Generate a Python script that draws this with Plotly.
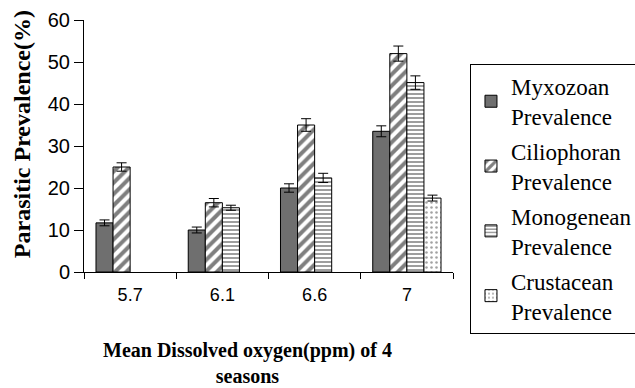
import plotly.graph_objects as go

categories = ["5.7", "6.1", "6.6", "7"]
myxozoan = [11.7, 10.0, 20.0, 33.5]
myxozoan_err = [0.7, 0.7, 1.0, 1.3]
ciliophoran = [25.0, 16.5, 35.0, 52.0]
ciliophoran_err = [1.0, 1.0, 1.5, 1.8]
monogenean = [None, 15.3, 22.4, 45.1]
monogenean_err = [None, 0.6, 1.1, 1.6]
crustacean = [None, None, None, 17.6]
crustacean_err = [None, None, None, 0.7]
y_ticks = [0, 10, 20, 30, 40, 50, 60]

SERIF = "Liberation Serif"
SANS = "Liberation Sans"

series = [
    ("Myxozoan<br>Prevalence", myxozoan, myxozoan_err, dict(color="#6f6f6f")),
    ("Ciliophoran<br>Prevalence", ciliophoran, ciliophoran_err,
     dict(color="white", pattern=dict(shape="/", fgcolor="black", bgcolor="white", size=8, solidity=0.5))),
    ("Monogenean<br>Prevalence", monogenean, monogenean_err,
     dict(color="white", pattern=dict(shape="-", fgcolor="black", bgcolor="white", size=4, solidity=0.38))),
    ("Crustacean<br>Prevalence", crustacean, crustacean_err,
     dict(color="white", pattern=dict(shape=".", fgcolor="#444", bgcolor="white", size=5, solidity=0.2))),
]

fig = go.Figure()
for i, (name, vals, errs, mk) in enumerate(series):
    mk = dict(mk)
    mk["line"] = dict(color="black", width=1)
    fig.add_trace(go.Bar(
        x=categories, y=vals, name=name, marker=mk, legendgroup=f"g{i}",
        error_y=dict(type="data", array=errs, visible=True, color="black", thickness=1, width=5),
    ))

fig.update_layout(
    width=635, height=388,
    margin=dict(l=84, r=182, t=20, b=116, autoexpand=False),
    paper_bgcolor="white", plot_bgcolor="white",
    font=dict(family=SERIF, color="black"),
    barmode="group", bargap=0.26, bargroupgap=0,
    showlegend=True,
    legend=dict(
        x=1.046, y=0.826, xanchor="left", yanchor="top",
        bordercolor="black", borderwidth=1, bgcolor="white",
        font=dict(family=SERIF, size=23, color="black"),
        itemwidth=30, tracegroupgap=2, maxheight=380,
    ),
    xaxis=dict(
        type="category", showline=True, linecolor="black", linewidth=1,
        ticks="outside", tickson="boundaries", ticklen=6, tickcolor="black",
        tickfont=dict(family=SANS, size=18, color="black"), ticklabelstandoff=6,
        showgrid=False, automargin=False,
    ),
    yaxis=dict(
        range=[0, 60], tickvals=y_ticks, showline=True, linecolor="black", linewidth=1,
        ticks="outside", ticklen=9, tickcolor="black",
        tickfont=dict(family=SANS, size=20, color="black"),
        showgrid=False, zeroline=False, automargin=False,
    ),
    annotations=[
        dict(text="<b>Mean Dissolved oxygen(ppm) of 4<br>seasons</b>",
             xref="paper", yref="paper", x=0.443, y=0, xanchor="center", yanchor="top",
             yshift=-65, showarrow=False,
             font=dict(family=SERIF, size=20, color="black")),
        dict(text="<b>Parasitic Prevalence(%)</b>",
             xref="paper", yref="paper", x=0, y=0.547, xanchor="center", yanchor="middle",
             xshift=-62, textangle=-90, showarrow=False,
             font=dict(family=SERIF, size=24, color="black")),
    ],
)

fig.write_html("out.html", config={"displayModeBar": False},
               post_script="document.body.style.margin='0px';")
